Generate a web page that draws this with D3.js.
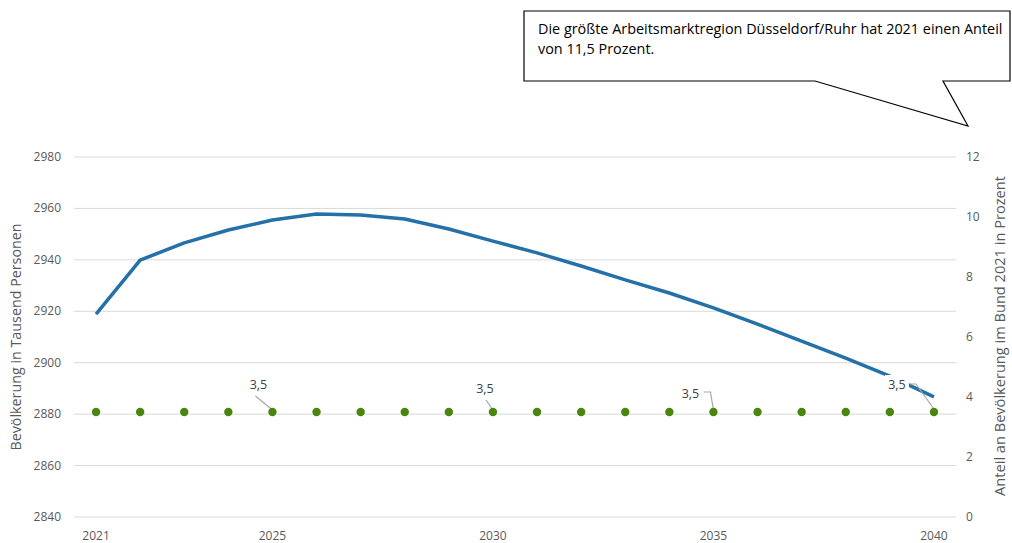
<!DOCTYPE html>
<html lang="de">
<head>
<meta charset="utf-8">
<title>Bevölkerung Düsseldorf/Ruhr</title>
<script src="https://d3js.org/d3.v7.min.js"></script>
<style>
  body { margin: 0; background: #fff; }
  text { font-family: "Open Sans", "Noto Sans", sans-serif; }
</style>
</head>
<body>
<svg width="1012" height="543"></svg>
<script>
// data
const years = d3.range(2021, 2041);
const population = [2918.9, 2939.9, 2946.6, 2951.6, 2955.5, 2957.8, 2957.4, 2955.9, 2952.0, 2947.3,
                    2942.7, 2937.6, 2932.2, 2927.1, 2921.3, 2915.0, 2908.4, 2901.8, 2894.8, 2886.7];
const share = years.map(() => 3.5);
const labelledYears = [2025, 2030, 2035, 2040];
const xTickYears = [2021, 2025, 2030, 2035, 2040];
const leftTicks = d3.range(2840, 2981, 20);
const rightTicks = d3.range(0, 13, 2);
const calloutText = ["Die größte Arbeitsmarktregion Düsseldorf/Ruhr hat 2021 einen Anteil", "von 11,5 Prozent."];

const svg = d3.select("svg");
const grey = "#595959";

const x = d3.scaleBand().domain(years).range([74, 956]);
const yL = d3.scaleLinear().domain([2840, 2980]).range([517, 157]);
const yR = d3.scaleLinear().domain([0, 12]).range([517, 157]);
const cx = d => x(d) + x.bandwidth() / 2;

// gridlines
svg.append("g").selectAll("line").data(leftTicks).join("line")
    .attr("x1", 74).attr("x2", 956)
    .attr("y1", d => yL(d)).attr("y2", d => yL(d))
    .attr("stroke", "#d9d9d9").attr("stroke-width", 1);

// left axis labels
svg.append("g").selectAll("text").data(leftTicks).join("text")
    .attr("x", 61).attr("y", d => yL(d) + 4)
    .attr("text-anchor", "end").attr("font-size", 12).attr("fill", grey)
    .text(d => d);

// right axis labels
svg.append("g").selectAll("text").data(rightTicks).join("text")
    .attr("x", 966).attr("y", d => yR(d) + 4)
    .attr("text-anchor", "start").attr("font-size", 12).attr("fill", grey)
    .text(d => d);

// x labels
svg.append("g").selectAll("text").data(xTickYears).join("text")
    .attr("x", d => cx(d)).attr("y", 540)
    .attr("text-anchor", "middle").attr("font-size", 12).attr("fill", grey)
    .text(d => d);

// axis titles
svg.append("text")
    .attr("transform", "translate(21,337) rotate(-90)")
    .attr("text-anchor", "middle").attr("font-size", 14.3).attr("fill", grey)
    .text("Bevölkerung in Tausend Personen");
svg.append("text")
    .attr("transform", "translate(1005,336) rotate(-90)")
    .attr("text-anchor", "middle").attr("font-size", 14.6).attr("fill", grey)
    .text("Anteil an Bevölkerung im Bund 2021 in Prozent");

// population line
const line = d3.line().x((d, i) => cx(years[i])).y(d => yL(d));
svg.append("path").datum(population)
    .attr("d", line)
    .attr("fill", "none").attr("stroke", "#2470a8").attr("stroke-width", 3.5)
    .attr("stroke-linejoin", "round");

// data labels with leader lines
const labelPos = {
  2025: { dx: -14, dy: -27, leader: d => [[cx(d) - 17, 396], [cx(d), 410]] },
  2030: { dx: -8, dy: -23, leader: d => [[cx(d) - 7, 400], [cx(d), 410]] },
  2035: { dx: -23, dy: -18, leader: d => [[cx(d) - 10, 392], [cx(d) - 3, 392], [cx(d), 410]] },
  2040: { dx: -37, dy: -27, leader: d => [[cx(d) - 24, 384], [cx(d) - 18, 384], [cx(d), 409]] }
};
const lab = svg.append("g");
labelledYears.forEach(yr => {
  const p = labelPos[yr];
  const tx = cx(yr) + p.dx, ty = yR(3.5) + p.dy;
  lab.append("rect").attr("x", tx - 12).attr("y", ty - 10).attr("width", 24).attr("height", 15).attr("fill", "#fff");
  lab.append("path").attr("d", d3.line()(p.leader(yr)))
      .attr("fill", "none").attr("stroke", "#a6a6a6").attr("stroke-width", 1.2);
  lab.append("text").attr("x", tx).attr("y", ty + 4)
      .attr("text-anchor", "middle").attr("font-size", 12.5).attr("fill", "#404040")
      .text("3,5");
});

// share dots
svg.append("g").selectAll("circle").data(share).join("circle")
    .attr("cx", (d, i) => cx(years[i])).attr("cy", d => yR(d))
    .attr("r", 4.2).attr("fill", "#4a850f");

// callout
const co = svg.append("g");
co.append("path")
    .attr("d", "M524,11 L1010,11 L1010,81 L943,81 L968,126 L815,81 L524,81 Z")
    .attr("fill", "#fff").attr("stroke", "#000").attr("stroke-width", 1.2);
co.selectAll("text").data(calloutText).join("text")
    .attr("x", 538).attr("y", (d, i) => 34 + i * 20)
    .attr("font-size", 14.4).attr("fill", "#000")
    .text(d => d);
</script>
</body>
</html>
